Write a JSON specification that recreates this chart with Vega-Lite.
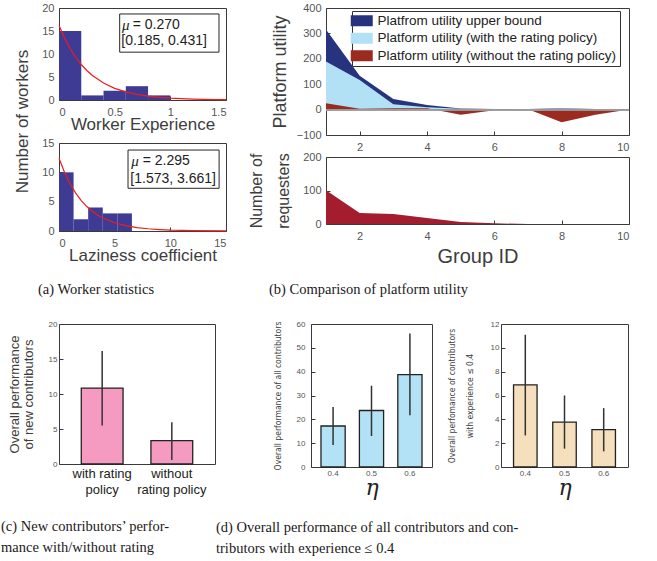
{
  "$schema": "https://vega.github.io/schema/vega-lite/v6.json",
  "background": "white",
  "padding": {"left": 0, "top": 1, "right": 5, "bottom": 5},
  "columns": 1,
  "align": "none",
  "spacing": 23,
  "resolve": {"scale": {"color": "independent"}, "legend": {"color": "independent"}},
  "config": {
    "view": {"stroke": "#3a3a3a", "strokeWidth": 1},
    "axis": {"domain": false, "grid": false, "tickColor": "#3a3a3a", "tickSize": -4, "labelOverlap": false, "labelColor": "#555555", "labelFont": "Liberation Sans", "labelFontSize": 11, "titleFont": "Liberation Sans", "titleFontWeight": "normal", "titleColor": "#3d3d3d", "titleFontSize": 17, "titlePadding": 3},
    "axisX": {"labelPadding": 10, "titlePadding": -1},
    "axisY": {"labelPadding": 9}
  },
  "concat": [
    {
      "resolve": {"scale": {"color": "independent"}, "legend": {"color": "independent"}},
      "hconcat": [
        {
          "title": {"text": "(a)  Worker statistics", "orient": "bottom", "anchor": "start", "frame": "group", "dx": -21, "offset": 19, "font": "Liberation Serif", "fontSize": 14.5, "fontWeight": "normal", "color": "#1a1a1a"},
          "spacing": 43,
          "bounds": "flush",
          "vconcat": [
            {
              "width": 167, "height": 92,
              "layer": [
                {
                  "data": {"values": [{"x": 0, "x2": 0.2, "y": 15}, {"x": 0.2, "x2": 0.4, "y": 1}, {"x": 0.4, "x2": 0.6, "y": 2}, {"x": 0.6, "x2": 0.8, "y": 3}, {"x": 0.8, "x2": 1.0, "y": 1}]},
                  "mark": {"type": "rect", "color": "#3d3b94"},
                  "encoding": {
                    "x": {"field": "x", "type": "quantitative", "title": "Worker Experience", "scale": {"domain": [0, 1.5], "nice": false, "zero": false}, "axis": {"values": [0, 0.5, 1, 1.5], "tickCount": 30, "format": "~g"}},
                    "x2": {"field": "x2"},
                    "y": {"field": "y", "type": "quantitative", "title": "Number of workers", "scale": {"domain": [0, 20], "nice": false}, "axis": {"values": [0, 5, 10, 15, 20], "tickCount": 30, "format": "d", "titleX": -28, "titleY": 113}},
                    "y2": {"datum": 0}
                  }
                },
                {
                  "data": {"values": [{"x": 0, "y": 16.2}, {"x": 0.05, "y": 13.46}, {"x": 0.1, "y": 11.18}, {"x": 0.15, "y": 9.29}, {"x": 0.2, "y": 7.72}, {"x": 0.25, "y": 6.42}, {"x": 0.3, "y": 5.33}, {"x": 0.4, "y": 3.68}, {"x": 0.5, "y": 2.54}, {"x": 0.6, "y": 1.76}, {"x": 0.7, "y": 1.21}, {"x": 0.8, "y": 0.84}, {"x": 0.9, "y": 0.58}, {"x": 1.0, "y": 0.4}, {"x": 1.1, "y": 0.28}, {"x": 1.2, "y": 0.19}, {"x": 1.3, "y": 0.13}, {"x": 1.4, "y": 0.09}, {"x": 1.5, "y": 0.06}]},
                  "mark": {"type": "line", "color": "#f01c1c", "strokeWidth": 1.2},
                  "encoding": {"x": {"field": "x", "type": "quantitative", "title": "Worker Experience"}, "y": {"field": "y", "type": "quantitative", "title": "Number of workers"}}
                },
                {
                  "data": {"values": [{"x": 0.545, "x2": 1.437, "y": 10.4, "y2": 18.7}]},
                  "mark": {"type": "rect", "fill": "white", "stroke": "#262626", "strokeWidth": 1},
                  "encoding": {"x": {"field": "x", "type": "quantitative", "title": "Worker Experience"}, "x2": {"field": "x2"}, "y": {"field": "y", "type": "quantitative", "title": "Number of workers"}, "y2": {"field": "y2"}}
                },
                {
                  "data": {"values": [{"x": 0.566, "y": 16.4, "t": "μ"}]},
                  "mark": {"type": "text", "align": "left", "baseline": "middle", "font": "Liberation Serif", "fontStyle": "italic", "fontSize": 15, "color": "#222222"},
                  "encoding": {"x": {"field": "x", "type": "quantitative", "title": "Worker Experience"}, "y": {"field": "y", "type": "quantitative", "title": "Number of workers"}, "text": {"field": "t"}}
                },
                {
                  "data": {"values": [{"x": 0.662, "y": 16.4, "t": "= 0.270"}, {"x": 0.56, "y": 12.8, "t": "[0.185, 0.431]"}]},
                  "mark": {"type": "text", "align": "left", "baseline": "middle", "font": "Liberation Sans", "fontSize": 14, "color": "#222222"},
                  "encoding": {"x": {"field": "x", "type": "quantitative", "title": "Worker Experience"}, "y": {"field": "y", "type": "quantitative", "title": "Number of workers"}, "text": {"field": "t"}}
                }
              ]
            },
            {
              "width": 167, "height": 88,
              "layer": [
                {
                  "data": {"values": [{"x": 0, "x2": 1.31, "y": 10}, {"x": 1.31, "x2": 2.62, "y": 2}, {"x": 2.62, "x2": 3.93, "y": 4}, {"x": 3.93, "x2": 5.24, "y": 3}, {"x": 5.24, "x2": 6.55, "y": 3}]},
                  "mark": {"type": "rect", "color": "#3d3b94"},
                  "encoding": {
                    "x": {"field": "x", "type": "quantitative", "title": "Laziness coefficient", "scale": {"domain": [0, 15], "nice": false, "zero": false}, "axis": {"values": [0, 5, 10, 15], "tickCount": 30, "format": "d"}},
                    "x2": {"field": "x2"},
                    "y": {"field": "y", "type": "quantitative", "title": null, "scale": {"domain": [0, 15], "nice": false}, "axis": {"values": [0, 5, 10, 15], "tickCount": 30, "format": "d"}},
                    "y2": {"datum": 0}
                  }
                },
                {
                  "data": {"values": [{"x": 0, "y": 12.4}, {"x": 0.5, "y": 9.97}, {"x": 1, "y": 8.02}, {"x": 1.5, "y": 6.45}, {"x": 2, "y": 5.19}, {"x": 2.5, "y": 4.17}, {"x": 3, "y": 3.36}, {"x": 3.5, "y": 2.7}, {"x": 4, "y": 2.17}, {"x": 5, "y": 1.41}, {"x": 6, "y": 0.91}, {"x": 7, "y": 0.59}, {"x": 8, "y": 0.38}, {"x": 9, "y": 0.25}, {"x": 10, "y": 0.16}, {"x": 12, "y": 0.07}, {"x": 15, "y": 0.02}]},
                  "mark": {"type": "line", "color": "#f01c1c", "strokeWidth": 1.2},
                  "encoding": {"x": {"field": "x", "type": "quantitative", "title": "Laziness coefficient"}, "y": {"field": "y", "type": "quantitative", "title": null}}
                },
                {
                  "data": {"values": [{"x": 6.2, "x2": 14.38, "y": 7.28, "y2": 13.8}]},
                  "mark": {"type": "rect", "fill": "white", "stroke": "#262626", "strokeWidth": 1},
                  "encoding": {"x": {"field": "x", "type": "quantitative", "title": "Laziness coefficient"}, "x2": {"field": "x2"}, "y": {"field": "y", "type": "quantitative", "title": null}, "y2": {"field": "y2"}}
                },
                {
                  "data": {"values": [{"x": 6.49, "y": 11.93, "t": "μ"}]},
                  "mark": {"type": "text", "align": "left", "baseline": "middle", "font": "Liberation Serif", "fontStyle": "italic", "fontSize": 15, "color": "#222222"},
                  "encoding": {"x": {"field": "x", "type": "quantitative", "title": "Laziness coefficient"}, "y": {"field": "y", "type": "quantitative", "title": null}, "text": {"field": "t"}}
                },
                {
                  "data": {"values": [{"x": 7.52, "y": 11.93, "t": "= 2.295"}, {"x": 6.41, "y": 8.81, "t": "[1.573, 3.661]"}]},
                  "mark": {"type": "text", "align": "left", "baseline": "middle", "font": "Liberation Sans", "fontSize": 14, "color": "#222222"},
                  "encoding": {"x": {"field": "x", "type": "quantitative", "title": "Laziness coefficient"}, "y": {"field": "y", "type": "quantitative", "title": null}, "text": {"field": "t"}}
                }
              ]
            }
          ]
        },
        {
          "title": {"text": "(b)  Comparison of platform utility", "orient": "bottom", "anchor": "start", "frame": "group", "dx": -57, "offset": 16, "font": "Liberation Serif", "fontSize": 14.5, "fontWeight": "normal", "color": "#1a1a1a"},
          "spacing": 22,
          "bounds": "flush",
          "resolve": {"scale": {"color": "independent"}, "legend": {"color": "independent"}},
          "vconcat": [
            {
              "width": 303, "height": 127,
              "data": {"values": [
                {"g": 1, "s": "Platfrom utility upper bound", "v": 315}, {"g": 2, "s": "Platfrom utility upper bound", "v": 133}, {"g": 3, "s": "Platfrom utility upper bound", "v": 42}, {"g": 4, "s": "Platfrom utility upper bound", "v": 18}, {"g": 5, "s": "Platfrom utility upper bound", "v": 4}, {"g": 6, "s": "Platfrom utility upper bound", "v": 2}, {"g": 7, "s": "Platfrom utility upper bound", "v": 2}, {"g": 8, "s": "Platfrom utility upper bound", "v": 5}, {"g": 9, "s": "Platfrom utility upper bound", "v": 2}, {"g": 10, "s": "Platfrom utility upper bound", "v": 0},
                {"g": 1, "s": "Platform utility (with the rating policy)", "v": 189}, {"g": 2, "s": "Platform utility (with the rating policy)", "v": 117}, {"g": 3, "s": "Platform utility (with the rating policy)", "v": 21}, {"g": 4, "s": "Platform utility (with the rating policy)", "v": 9}, {"g": 5, "s": "Platform utility (with the rating policy)", "v": 3}, {"g": 6, "s": "Platform utility (with the rating policy)", "v": 1}, {"g": 7, "s": "Platform utility (with the rating policy)", "v": 1}, {"g": 8, "s": "Platform utility (with the rating policy)", "v": 4}, {"g": 9, "s": "Platform utility (with the rating policy)", "v": 2}, {"g": 10, "s": "Platform utility (with the rating policy)", "v": 0},
                {"g": 1, "s": "Platform utility (without the rating policy)", "v": 25}, {"g": 2, "s": "Platform utility (without the rating policy)", "v": 3}, {"g": 3, "s": "Platform utility (without the rating policy)", "v": 5}, {"g": 4, "s": "Platform utility (without the rating policy)", "v": 5}, {"g": 5, "s": "Platform utility (without the rating policy)", "v": -20}, {"g": 6, "s": "Platform utility (without the rating policy)", "v": -3}, {"g": 7, "s": "Platform utility (without the rating policy)", "v": 1}, {"g": 8, "s": "Platform utility (without the rating policy)", "v": -50}, {"g": 9, "s": "Platform utility (without the rating policy)", "v": -20}, {"g": 10, "s": "Platform utility (without the rating policy)", "v": 0}
              ]},
              "encoding": {
                "x": {"field": "g", "type": "quantitative", "scale": {"domain": [1, 10], "nice": false, "zero": false}},
                "y": {"field": "v", "type": "quantitative", "scale": {"domain": [-100, 400], "nice": false}},
                "color": {"field": "s", "type": "nominal", "scale": {"domain": ["Platfrom utility upper bound", "Platform utility (with the rating policy)", "Platform utility (without the rating policy)"], "range": ["#27337f", "#b2e1f6", "#9b2b20"]},
                  "legend": {"title": null, "orient": "none", "legendX": 26, "legendY": 3, "symbolType": "M-2,-1H2V1H-2Z", "symbolSize": 121, "symbolStrokeWidth": 0, "symbolOpacity": 1, "labelFont": "Liberation Sans", "labelFontSize": 13.5, "labelColor": "#222222", "labelLimit": 400, "labelOffset": 9, "padding": 3, "rowPadding": 2.5, "strokeColor": "#333333", "fillColor": "white"}}
              },
              "layer": [
                {
                  "transform": [{"filter": "datum.s == 'Platfrom utility upper bound'"}],
                  "mark": {"type": "area"},
                  "encoding": {
                    "x": {"field": "g", "type": "quantitative", "axis": {"values": [2, 4, 6, 8, 10], "tickCount": 30, "format": "d", "title": null}},
                    "y": {"field": "v", "type": "quantitative", "axis": {"values": [-100, 0, 100, 200, 300, 400], "tickCount": 30, "format": "d", "title": "Platform utility", "titleFontSize": 18, "titleX": -37}},
                    "y2": {"datum": 0}
                  }
                },
                {
                  "transform": [{"filter": "datum.s == 'Platform utility (with the rating policy)'"}],
                  "mark": {"type": "area"},
                  "encoding": {"y2": {"datum": 0}}
                },
                {
                  "transform": [{"filter": "datum.s == 'Platform utility (without the rating policy)'"}],
                  "mark": {"type": "area"},
                  "encoding": {"y2": {"datum": 0}}
                },
                {
                  "mark": {"type": "rule", "color": "#9a9a9a", "strokeWidth": 1},
                  "encoding": {"x": {"datum": 1}, "x2": {"datum": 10}, "y": {"datum": 0}, "color": {"value": "#9a9a9a"}}
                }
              ]
            },
            {
              "width": 303, "height": 67,
              "data": {"values": [{"g": 1, "n": 101}, {"g": 2, "n": 33}, {"g": 3, "n": 30}, {"g": 4, "n": 18}, {"g": 5, "n": 6}, {"g": 6, "n": 2}, {"g": 7, "n": 0}, {"g": 8, "n": 0}, {"g": 9, "n": 0}, {"g": 10, "n": 0}]},
              "mark": {"type": "area", "color": "#a31d2f"},
              "encoding": {
                "x": {"field": "g", "type": "quantitative", "scale": {"domain": [1, 10], "nice": false, "zero": false}, "axis": {"values": [2, 4, 6, 8, 10], "tickCount": 30, "format": "d", "title": "Group ID", "titleFontSize": 20, "titlePadding": 5}},
                "y": {"field": "n", "type": "quantitative", "scale": {"domain": [0, 200], "nice": false}, "axis": {"values": [0, 100, 200], "tickCount": 30, "format": "d", "title": ["Number of", "requesters"], "titleFontSize": 16, "titleLineHeight": 27, "titleX": -62}}
              }
            }
          ]
        }
      ],
      "spacing": 18
    },
    {
      "hconcat": [
        {
          "title": {"text": ["(c)  New contributors’ perfor-", "mance with/without rating"], "orient": "bottom", "anchor": "start", "frame": "group", "dx": -58, "offset": 24, "lineHeight": 21, "font": "Liberation Serif", "fontSize": 14.5, "fontWeight": "normal", "color": "#1a1a1a"},
          "width": 156, "height": 140,
          "data": {"values": [{"c": "with rating policy", "v": 10.85, "lo": 5.5, "hi": 16.15}, {"c": "without rating policy", "v": 3.35, "lo": 0.57, "hi": 5.95}]},
          "layer": [
            {
              "mark": {"type": "bar", "fill": "#f59bc2", "stroke": "#222222", "strokeWidth": 1.3},
              "encoding": {
                "x": {"field": "c", "type": "nominal", "sort": null, "scale": {"paddingInner": 0.4, "paddingOuter": 0.32}, "axis": {"labelAngle": 0, "title": null, "labelFontSize": 13, "labelColor": "#222222", "labelLineHeight": 16, "labelPadding": 7, "labelExpr": "datum.value == 'with rating policy' ? ['with rating', 'policy'] : ['without', 'rating policy']"}},
                "y": {"field": "v", "type": "quantitative", "scale": {"domain": [0, 20], "nice": false}, "axis": {"values": [0, 5, 10, 15, 20], "tickCount": 30, "format": "d", "labelFontSize": 8, "labelPadding": 6, "title": ["Overall performance", "of new contributors"], "titleFontSize": 13, "titleLineHeight": 14, "titlePadding": 13}}
              }
            },
            {
              "mark": {"type": "rule", "color": "#333333", "strokeWidth": 1.5},
              "encoding": {"x": {"field": "c", "type": "nominal", "sort": null}, "y": {"field": "lo", "type": "quantitative"}, "y2": {"field": "hi"}}
            }
          ]
        },
        {
          "title": {"text": ["(d)  Overall performance of all contributors and con-", "tributors with experience ≤ 0.4"], "orient": "bottom", "anchor": "start", "frame": "group", "dx": -95, "offset": 22, "lineHeight": 21, "font": "Liberation Serif", "fontSize": 14.5, "fontWeight": "normal", "color": "#1a1a1a"},
          "spacing": 69,
          "bounds": "flush",
          "hconcat": [
            {
              "width": 121, "height": 143,
              "data": {"values": [{"e": "0.4", "v": 17.2, "lo": 9.25, "hi": 25.2}, {"e": "0.5", "v": 23.7, "lo": 13, "hi": 34.1}, {"e": "0.6", "v": 38.8, "lo": 21.7, "hi": 56}]},
              "layer": [
                {
                  "mark": {"type": "bar", "fill": "#b3e1f6", "stroke": "#222222", "strokeWidth": 1.3},
                  "encoding": {
                    "x": {"field": "e", "type": "nominal", "scale": {"paddingInner": 0.37, "paddingOuter": 0.26}, "axis": {"labelAngle": 0, "labelFontSize": 8, "labelPadding": 6, "title": "η", "titleFont": "DejaVu Serif", "titleFontStyle": "italic", "titleFontSize": 22, "titleColor": "#222222", "titlePadding": 0}},
                    "y": {"field": "v", "type": "quantitative", "scale": {"domain": [0, 60], "nice": false}, "axis": {"values": [0, 10, 20, 30, 40, 50, 60], "tickCount": 30, "format": "d", "labelFontSize": 8, "labelPadding": 10, "title": "Overall performance of all contributors", "titleFont": "Liberation Sans Narrow, DejaVu Sans Condensed, sans-serif", "titleFontSize": 8.5, "titlePadding": 14}}
                  }
                },
                {
                  "mark": {"type": "rule", "color": "#333333", "strokeWidth": 1.5},
                  "encoding": {"x": {"field": "e", "type": "nominal"}, "y": {"field": "lo", "type": "quantitative"}, "y2": {"field": "hi"}}
                }
              ]
            },
            {
              "width": 127, "height": 143,
              "data": {"values": [{"e": "0.4", "v": 6.9, "lo": 2.65, "hi": 11.1}, {"e": "0.5", "v": 3.77, "lo": 1.54, "hi": 6.0}, {"e": "0.6", "v": 3.13, "lo": 1.31, "hi": 4.94}]},
              "layer": [
                {
                  "mark": {"type": "bar", "fill": "#f5dfbd", "stroke": "#222222", "strokeWidth": 1.3},
                  "encoding": {
                    "x": {"field": "e", "type": "nominal", "scale": {"paddingInner": 0.4, "paddingOuter": 0.32}, "axis": {"labelAngle": 0, "labelFontSize": 8, "labelPadding": 6, "title": "η", "titleFont": "DejaVu Serif", "titleFontStyle": "italic", "titleFontSize": 22, "titleColor": "#222222", "titlePadding": 0}},
                    "y": {"field": "v", "type": "quantitative", "scale": {"domain": [0, 12], "nice": false}, "axis": {"values": [0, 2, 4, 6, 8, 10, 12], "tickCount": 30, "format": "d", "labelFontSize": 8, "labelPadding": 6, "title": ["Overall perfomance of contributors", "with experience ≤ 0.4"], "titleFont": "Liberation Sans Narrow, DejaVu Sans Condensed, sans-serif", "titleFontSize": 8.5, "titleLineHeight": 18, "titlePadding": 16}}
                  }
                },
                {
                  "mark": {"type": "rule", "color": "#333333", "strokeWidth": 1.5},
                  "encoding": {"x": {"field": "e", "type": "nominal"}, "y": {"field": "lo", "type": "quantitative"}, "y2": {"field": "hi"}}
                }
              ]
            }
          ]
        }
      ],
      "spacing": 0
    }
  ]
}
